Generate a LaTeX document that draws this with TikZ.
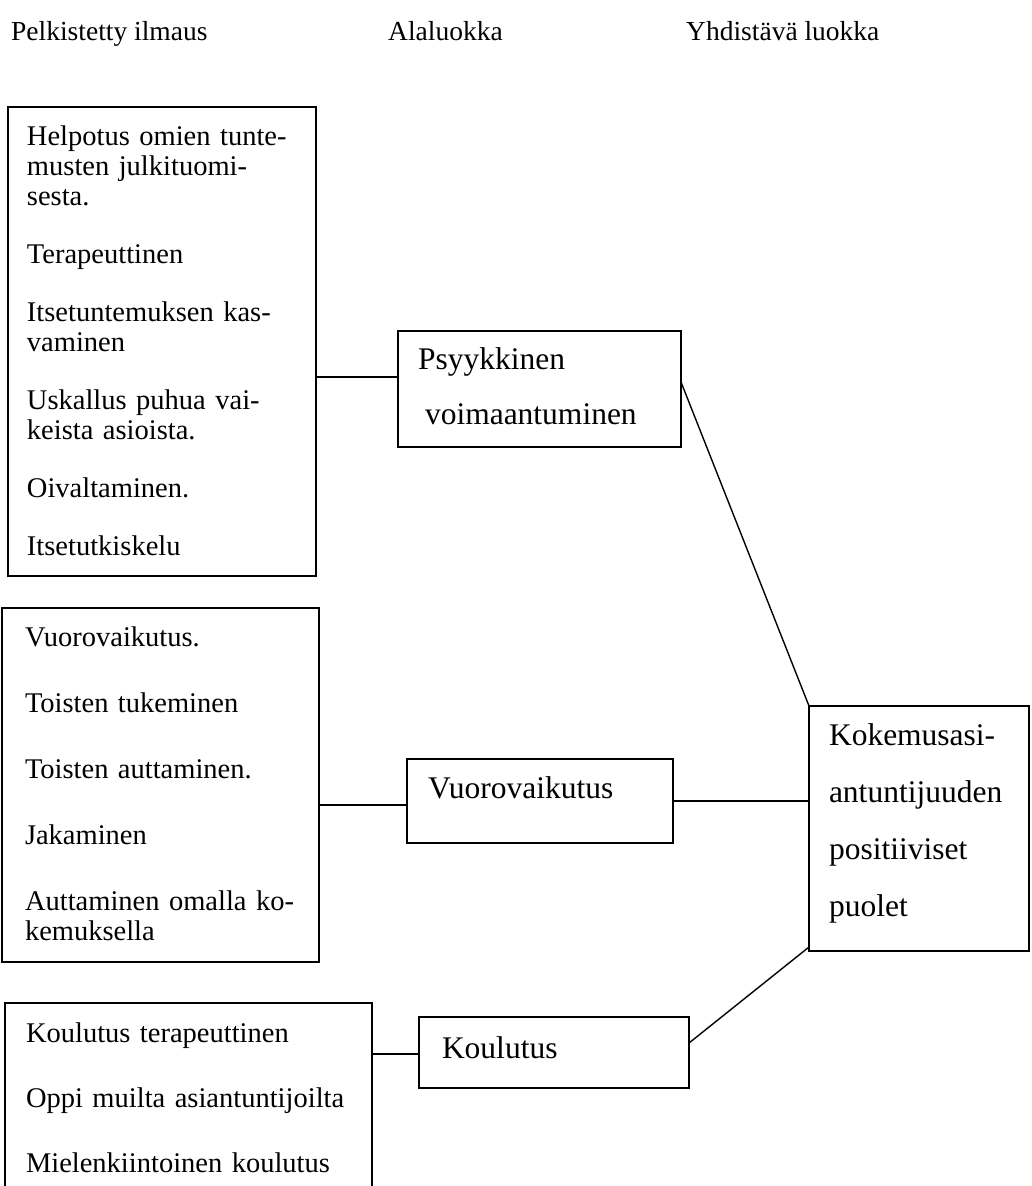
\documentclass[tikz,border=0pt]{standalone}
\usepackage{fontspec}
\setmainfont{Liberation Serif}
\tikzset{
  box/.style={draw, line width=1.3pt, inner ysep=0pt, outer sep=0pt, align=left, anchor=north west},
  small/.style={font=\fontsize{28.5}{30}\selectfont},
  big/.style={font=\fontsize{31.5}{35}\selectfont},
  conn/.style={line width=1.4pt},
  hdr/.style={font=\fontsize{27.5}{30}\selectfont, anchor=base west, inner sep=0pt}
}
\begin{document}
\begin{tikzpicture}[x=1pt,y=-1pt]
\useasboundingbox (0,0) rectangle (1031,1186);
\clip (0,0) rectangle (1031,1186);
% headers
\node[hdr] (h1) at (11,40) {Pelkistetty ilmaus};
\node[hdr] (h2) at (388,40) {Alaluokka};
\node[hdr] (h3) at (686,40) {Yhdistävä luokka};
% left column
\node[box, small, inner xsep=19pt, text width=270pt, text height=38pt, text depth=431pt] (b1) at (8,107)
 {Helpotus omien tunte-\\musten julkituomi-\\sesta.\\[28pt]Terapeuttinen\\[28pt]Itsetuntemuksen kas-\\vaminen\\[28pt]Uskallus puhua vai-\\keista asioista.\\[28pt]Oivaltaminen.\\[28pt]Itsetutkiskelu};
\node[box, small, inner xsep=23pt, text width=271pt, text height=38pt, text depth=316pt] (b2) at (2,608)
 {Vuorovaikutus.\\[36pt]Toisten tukeminen\\[36pt]Toisten auttaminen.\\[36pt]Jakaminen\\[36pt]Auttaminen omalla ko-\\kemuksella};
\node[box, small, inner xsep=21pt, text width=325pt, text height=39pt, text depth=208pt] (b3) at (5,1003)
 {Koulutus terapeuttinen\\[35pt]Oppi muilta asiantuntijoilta\\[35pt]Mielenkiintoinen koulutus};
% middle column
\node[box, big, inner xsep=20pt, text width=243pt, text height=38pt, text depth=78pt] (psy) at (398,331)
 {Psyykkinen\\[20pt]\hspace*{7pt}voimaantuminen};
\node[box, big, inner xsep=21pt, text width=224pt, text height=39pt, text depth=45pt] (vuo) at (407,759)
 {Vuorovaikutus};
\node[box, big, inner xsep=23pt, text width=224pt, text height=41pt, text depth=30pt] (kou) at (419,1017)
 {Koulutus};
% right column
\node[box, big, inner xsep=20pt, text width=180pt, text height=39pt, text depth=206pt] (kok) at (809,706)
 {Kokemusasi-\\[22pt]antuntijuuden\\[22pt]positiiviset\\[22pt]puolet};
% connectors
\draw[conn] (b1.east |- 0,377) -- (psy.west |- 0,377);
\draw[conn] (psy.east |- 0,382) -- (kok.north west);
\draw[conn] (b2.east |- 0,805) -- (vuo.west |- 0,805);
\draw[conn] (vuo.east) -- (kok.west |- vuo.east);
\draw[conn] (b3.east |- 0,1054) -- (kou.west |- 0,1054);
\draw[conn] (kou.east |- 0,1043) -- ([yshift=4pt]kok.south west);
\end{tikzpicture}
\end{document}
